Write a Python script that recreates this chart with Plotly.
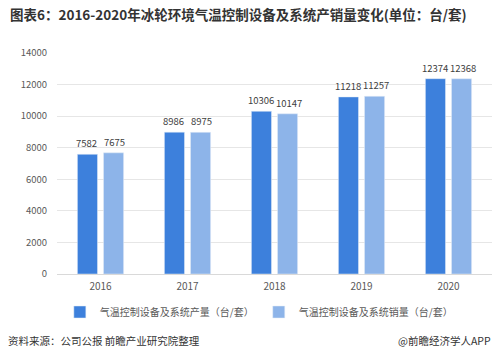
import plotly.graph_objects as go

years = ["2016", "2017", "2018", "2019", "2020"]
production = [7582, 8986, 10306, 11218, 12374]
sales = [7675, 8975, 10147, 11257, 12368]
y_ticks = [0, 2000, 4000, 6000, 8000, 10000, 12000, 14000]

font = "Noto Sans CJK SC"
fig = go.Figure()
fig.add_trace(go.Bar(x=years, y=production, name="气温控制设备及系统产量（台/套）",
                     marker_color="#3d80dc"))
fig.add_trace(go.Bar(x=years, y=sales, name="气温控制设备及系统销量（台/套）",
                     marker_color="#8db4e9"))

# data labels, anchored at each bar's category index / value
for series, shift in ((production, -14), (sales, 14)):
    for i, v in enumerate(series):
        fig.add_annotation(x=i, y=v, text=str(v), xshift=shift, yshift=2,
                           xanchor="center", yanchor="bottom", showarrow=False,
                           font=dict(size=9.5, color="#404040", family=font))

PW, PH = 435, 221
fig.update_layout(
    width=499, height=359,
    margin=dict(l=57, r=7, t=53, b=85),
    paper_bgcolor="white", plot_bgcolor="white",
    font=dict(family=font, color="#595959", size=10),
    barmode="group", bargap=0.4, bargroupgap=0.23,
    showlegend=True,
    legend=dict(orientation="h", x=0.464, xanchor="center", y=-38 / PH, yanchor="middle",
                font=dict(size=10, color="#595959"), traceorder="normal",
                itemwidth=30),
    xaxis=dict(type="category", categoryorder="array", categoryarray=years,
               showgrid=False, showline=True, linecolor="#d9d9d9", ticks="",
               ticklabelstandoff=3, tickfont=dict(size=10, color="#595959")),
    yaxis=dict(range=[0, 14000], tickvals=y_ticks, ticktext=[str(v) for v in y_ticks],
               showgrid=True, gridcolor="#e6e6e6",
               zeroline=False, ticks="", tickfont=dict(size=9.5, color="#595959"),
               ticklabelstandoff=9),
)
fig.add_annotation(text="<b>图表6：2016-2020年冰轮环境气温控制设备及系统产销量变化(单位：台/套)</b>",
                   xref="paper", yref="paper", x=-49 / PW, y=1 + 39 / PH, xanchor="left", yanchor="middle",
                   showarrow=False, font=dict(size=13.5, color="#333333", family=font))
fig.add_annotation(text="资料来源：公司公报 前瞻产业研究院整理",
                   xref="paper", yref="paper", x=-51 / PW, y=-66 / PH, xanchor="left", yanchor="middle",
                   showarrow=False, font=dict(size=10.5, color="#333333", family=font))
fig.add_annotation(text="@前瞻经济学人APP",
                   xref="paper", yref="paper", x=1 + 1 / PW, y=-66 / PH, xanchor="right", yanchor="middle",
                   showarrow=False, font=dict(size=10.5, color="#333333", family=font))
fig.write_html("out.html", config={"displayModeBar": False},
               post_script="document.body.style.margin='0';")
